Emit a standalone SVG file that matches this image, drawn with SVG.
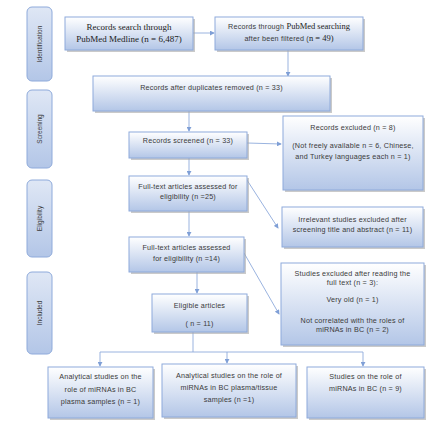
<svg xmlns="http://www.w3.org/2000/svg" width="436" height="427" viewBox="0 0 436 427">
<defs>
<linearGradient id="g" x1="0" y1="0" x2="0" y2="1">
<stop offset="0" stop-color="#ffffff"/>
<stop offset="1" stop-color="#b3c6e7"/>
</linearGradient>
<linearGradient id="gs" x1="0" y1="0" x2="0" y2="1">
<stop offset="0" stop-color="#dfe7f5"/>
<stop offset="1" stop-color="#b3c6e7"/>
</linearGradient>
<marker id="a" viewBox="0 0 6 6" refX="5" refY="3" markerWidth="5" markerHeight="5" orient="auto" markerUnits="userSpaceOnUse">
<path d="M0,0 L6,3 L0,6 z" fill="#7f9fd6"/>
</marker>
</defs>
<style>
.b{fill:url(#g);stroke:#8eaadb;stroke-width:1}
.sh{fill:#a6a6a6;opacity:0.6}
.s{fill:url(#gs);stroke:#8eaadb;stroke-width:1}
.t{font-family:"Liberation Sans",Arial,sans-serif;font-size:7.2px;letter-spacing:0.2px;fill:#3a3a3a;text-anchor:middle}
.v{font-family:"Liberation Sans",Arial,sans-serif;font-size:6.5px;fill:#3a3a3a;text-anchor:middle}
.sf{font-family:"Liberation Serif","Times New Roman",serif;font-size:9px;fill:#222;text-anchor:middle}
.c{fill:none;stroke:#8eaadb;stroke-width:0.9}
</style>
<rect width="436" height="427" fill="#ffffff"/>

<g id="stage-identification">
<rect class="s" x="27" y="7" width="25" height="74" rx="5"/>
<text class="v" transform="translate(42,44) rotate(-90)">Identification</text>
</g>
<g id="stage-screening">
<rect class="s" x="27" y="90" width="25" height="78" rx="5"/>
<text class="v" transform="translate(42,129) rotate(-90)">Screening</text>
</g>
<g id="stage-eligibility">
<rect class="s" x="27" y="180" width="25" height="77" rx="5"/>
<text class="v" transform="translate(42,218.5) rotate(-90)">Eligibility</text>
</g>
<g id="stage-included">
<rect class="s" x="27" y="272" width="25" height="82" rx="5"/>
<text class="v" transform="translate(42,313) rotate(-90)">Included</text>
</g>

<g id="connectors">
<line class="c" x1="193" y1="33" x2="214" y2="33" marker-end="url(#a)"/>
<line class="c" x1="288" y1="50" x2="288" y2="76" marker-end="url(#a)"/>
<line class="c" x1="189" y1="111" x2="189" y2="131" marker-end="url(#a)"/>
<line class="c" x1="247" y1="143" x2="281" y2="144" marker-end="url(#a)"/>
<line class="c" x1="189" y1="158" x2="189" y2="175" marker-end="url(#a)"/>
<line class="c" x1="245" y1="177" x2="278" y2="228" marker-end="url(#a)"/>
<line class="c" x1="189" y1="211" x2="189" y2="236" marker-end="url(#a)"/>
<line class="c" x1="244" y1="253" x2="279" y2="314" marker-end="url(#a)"/>
<line class="c" x1="197" y1="272" x2="197" y2="293" marker-end="url(#a)"/>
<line class="c" x1="193" y1="332" x2="193" y2="352"/>
<line class="c" x1="100" y1="352" x2="363" y2="352"/>
<line class="c" x1="100" y1="352" x2="100" y2="366" marker-end="url(#a)"/>
<line class="c" x1="227" y1="352" x2="227" y2="363" marker-end="url(#a)"/>
<line class="c" x1="363" y1="352" x2="363" y2="366" marker-end="url(#a)"/>
</g>

<g id="n1">
<rect class="sh" x="67" y="19" width="128" height="33"/>
<rect class="b" x="65" y="17" width="128" height="33"/>
<text class="sf" x="129" y="29.5">Records search through</text>
<text class="sf" x="129" y="41.5">PubMed Medline (n = 6,487)</text>
</g>
<g id="n2">
<rect class="sh" x="217" y="19" width="148" height="33"/>
<rect class="b" x="215" y="17" width="148" height="33"/>
<text class="t" x="289" y="29">Records through <tspan style="font-family:'Liberation Serif',serif;font-size:8.5px;letter-spacing:0;fill:#222">PubMed searching</tspan></text>
<text class="t" x="289" y="41">after been filtered (<tspan style="font-family:'Liberation Serif',serif;font-size:8.5px;letter-spacing:0;fill:#222">n = 49)</tspan></text>
</g>
<g id="n3">
<rect class="sh" x="95" y="78" width="237" height="35"/>
<rect class="b" x="93" y="76" width="237" height="35"/>
<text class="t" x="211.5" y="89.5">Records after duplicates removed (n = 33)</text>
</g>
<g id="n4">
<rect class="sh" x="131" y="134" width="118" height="26"/>
<rect class="b" x="129" y="132" width="118" height="26"/>
<text class="t" x="188" y="142.5">Records screened (n = 33)</text>
</g>
<g id="n5">
<rect class="sh" x="285" y="118" width="140" height="74"/>
<rect class="b" x="283" y="116" width="140" height="74"/>
<text class="t" x="353" y="129.5">Records excluded (n = 8)</text>
<text class="t" x="353" y="147.5">(Not freely available n = 6, Chinese,</text>
<text class="t" x="353" y="158.5">and Turkey languages each n = 1)</text>
</g>
<g id="n6">
<rect class="sh" x="131" y="178" width="118" height="35"/>
<rect class="b" x="129" y="176" width="118" height="35"/>
<text class="t" x="188" y="188.5">Full-text articles assessed for</text>
<text class="t" x="188" y="199">eligibility (n =25)</text>
</g>
<g id="n7">
<rect class="sh" x="284" y="209" width="141" height="40"/>
<rect class="b" x="282" y="207" width="141" height="40"/>
<text class="t" x="352.5" y="221.5">Irrelevant studies excluded after</text>
<text class="t" x="352.5" y="232">screening title and abstract (n = 11)</text>
</g>
<g id="n8">
<rect class="sh" x="131" y="239" width="115" height="35"/>
<rect class="b" x="129" y="237" width="115" height="35"/>
<text class="t" x="186.5" y="249.5">Full-text articles assessed</text>
<text class="t" x="186.5" y="260.5">for eligibility (n =14)</text>
</g>
<g id="n9">
<rect class="sh" x="154" y="296" width="95" height="38"/>
<rect class="b" x="152" y="294" width="95" height="38"/>
<text class="t" x="199.5" y="307.5">Eligible articles</text>
<text class="t" x="199.5" y="325.5">( n = 11)</text>
</g>
<g id="n10">
<rect class="sh" x="283" y="265" width="143" height="82"/>
<rect class="b" x="281" y="263" width="143" height="82"/>
<text class="t" x="352.5" y="275.5">Studies excluded after reading the</text>
<text class="t" x="352.5" y="285">full text (n = 3):</text>
<text class="t" x="352.5" y="301.5">Very old (n = 1)</text>
<text class="t" x="352.5" y="322.5">Not correlated with the roles of</text>
<text class="t" x="352.5" y="331.5">miRNAs in BC (n = 2)</text>
</g>
<g id="n11">
<rect class="sh" x="50" y="369" width="105" height="51"/>
<rect class="b" x="48" y="367" width="105" height="51"/>
<text class="t" x="100.5" y="378.5">Analytical studies on the</text>
<text class="t" x="100.5" y="391.5">role of miRNAs in BC</text>
<text class="t" x="100.5" y="403.5">plasma samples (n = 1)</text>
</g>
<g id="n12">
<rect class="sh" x="164" y="366" width="134" height="53"/>
<rect class="b" x="162" y="364" width="134" height="53"/>
<text class="t" x="229" y="377.5">Analytical studies on the role of</text>
<text class="t" x="229" y="389.5">miRNAs in BC plasma/tissue</text>
<text class="t" x="229" y="401.5">samples (n =1)</text>
</g>
<g id="n13">
<rect class="sh" x="309" y="369" width="117" height="51"/>
<rect class="b" x="307" y="367" width="117" height="51"/>
<text class="t" x="365.5" y="378.5">Studies on the role of</text>
<text class="t" x="365.5" y="390.5">miRNAs in BC (n = 9)</text>
</g>
</svg>
